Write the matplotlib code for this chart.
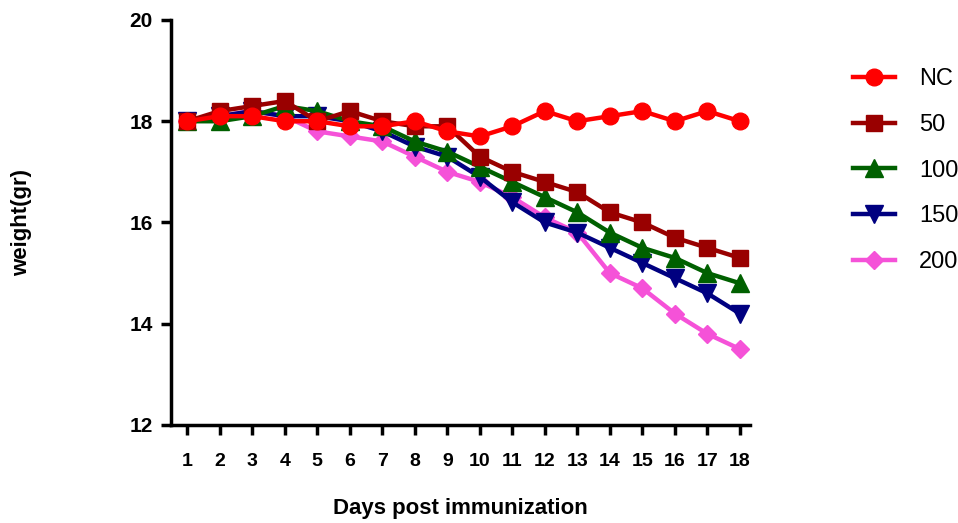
import matplotlib
matplotlib.use("Agg")
import matplotlib.pyplot as plt

plt.rcParams['font.family'] = ['Liberation Sans', 'DejaVu Sans']

days = list(range(1, 19))

nc = [18.0, 18.1, 18.1, 18.0, 18.0, 17.9, 17.9, 18.0, 17.8, 17.7, 17.9, 18.2, 18.0, 18.1, 18.2, 18.0, 18.2, 18.0]
d50 = [18.0, 18.2, 18.3, 18.4, 18.0, 18.2, 18.0, 17.9, 17.9, 17.3, 17.0, 16.8, 16.6, 16.2, 16.0, 15.7, 15.5, 15.3]
d100 = [18.0, 18.0, 18.1, 18.3, 18.2, 18.0, 17.9, 17.6, 17.4, 17.1, 16.8, 16.5, 16.2, 15.8, 15.5, 15.3, 15.0, 14.8]
d150 = [18.0, 18.1, 18.2, 18.1, 18.1, 18.0, 17.8, 17.5, 17.3, 16.9, 16.4, 16.0, 15.8, 15.5, 15.2, 14.9, 14.6, 14.2]
d200 = [18.0, 18.1, 18.2, 18.1, 17.8, 17.7, 17.6, 17.3, 17.0, 16.8, 16.5, 16.1, 15.8, 15.0, 14.7, 14.2, 13.8, 13.5]

labels = ['NC', '50', '100', '150', '200']
colors = ['#FF0000', '#990000', '#006000', '#000080', '#F552D8']
markers = ['o', 's', '^', 'v', 'D']
msizes = [12, 11.5, 12.5, 12.5, 9]

fig = plt.figure(figsize=(9.58, 5.23), dpi=100)
ax = fig.add_axes([0.1785, 0.1874, 0.604, 0.7744])

series = [nc, d50, d100, d150, d200]
handles = []
for i, (vals, lab) in enumerate(zip(series, labels)):
    h, = ax.plot(days, vals, color=colors[i], marker=markers[i], markersize=msizes[i],
                 linewidth=3.2, label=lab, zorder=10 - i, clip_on=False)
    handles.append(h)

ax.set_xlim(0.5, 18.3)
ax.set_ylim(12, 20)
ax.set_xticks(days)
ax.set_yticks([12, 14, 16, 18, 20])

for s in ['top', 'right']:
    ax.spines[s].set_visible(False)
for s in ['left', 'bottom']:
    ax.spines[s].set_linewidth(2.5)

ax.tick_params(axis='both', width=2.5, length=7)
ax.tick_params(axis='x', pad=13, labelsize=14)
ax.tick_params(axis='y', pad=6, labelsize=15)
for t in ax.get_xticklabels() + ax.get_yticklabels():
    t.set_fontweight('bold')

ax.set_xlabel('Days post immunization', fontsize=16, fontweight='bold', va='center')
ax.set_ylabel('weight(gr)', fontsize=16, fontweight='bold', va='center')
ax.xaxis.set_label_coords(0.5, -0.205)
ax.yaxis.set_label_coords(-0.258, 0.5)

fig.legend(handles=handles, labels=labels, loc='upper left',
           bbox_to_anchor=(0.868, 0.91), frameon=False, fontsize=17,
           handlelength=1.8, labelspacing=1.0, handletextpad=1.0)

fig.savefig('out.png', dpi=100)
